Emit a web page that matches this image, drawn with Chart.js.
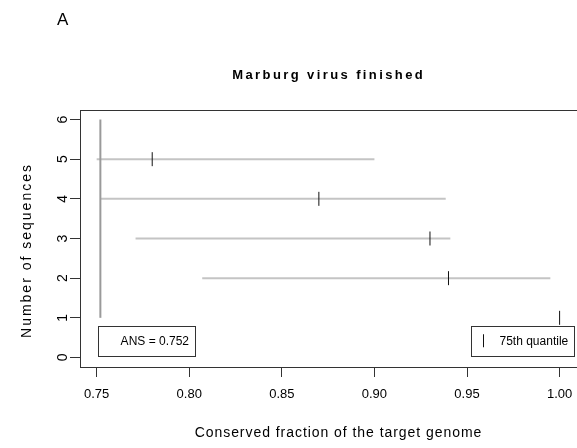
<!DOCTYPE html>
<html>
<head>
<meta charset="utf-8">
<script src="https://cdn.jsdelivr.net/npm/chart.js@4/dist/chart.umd.min.js"></script>
<style>
  html, body { margin: 0; padding: 0; background: #ffffff; }
  #wrap { width: 577px; height: 448px; position: relative; }
</style>
</head>
<body>
<div id="wrap"><canvas id="c" width="577" height="448"></canvas></div>
<script>
// ---- data ----
const sequences   = [1, 2, 3, 4, 5];
const rangeMin    = [1.000, 0.807, 0.771, 0.752, 0.750];
const rangeMax    = [1.000, 0.995, 0.941, 0.9385, 0.900];
const quantile75  = [1.000, 0.940, 0.930, 0.870, 0.780];
const ansValue    = 0.752;
const ansSpan     = [1, 6];
const xTickValues = [0.75, 0.80, 0.85, 0.90, 0.95, 1.00];
const yTickValues = [0, 1, 2, 3, 4, 5, 6];
const panelLabel  = 'A';
const chartTitle  = 'Marburg virus finished';
const xTitle      = 'Conserved fraction of the target genome';
const yTitle      = 'Number of sequences';
const ansLabel    = 'ANS = 0.752';
const quantLabel  = '75th quantile';

const FONT = '"Liberation Sans", Arial, Helvetica, sans-serif';

// ---- datasets ----
const datasets = [];
sequences.forEach((s, i) => {
  datasets.push({
    label: 'range ' + s,
    data: [{x: rangeMin[i], y: s}, {x: rangeMax[i], y: s}],
    showLine: true,
    borderColor: '#c4c4c4',
    borderWidth: 2,
    pointRadius: 0,
    order: 3
  });
});
datasets.push({
  label: 'ANS',
  data: ansSpan.map(y => ({x: ansValue, y: y})),
  showLine: true,
  borderColor: '#9a9a9a',
  borderWidth: 2,
  pointRadius: 0,
  order: 2
});
datasets.push({
  label: '75th quantile',
  data: sequences.map((s, i) => ({x: quantile75[i], y: s})),
  showLine: false,
  pointStyle: 'line',
  rotation: 90,
  pointRadius: 7,
  borderColor: '#111111',
  backgroundColor: '#111111',
  pointBorderWidth: 1,
  borderWidth: 1,
  clip: false,
  order: 1
});

function spacedText(ctx, text, x, y, spacing, align) {
  let total = 0;
  const widths = [];
  for (const ch of text) { const w = ctx.measureText(ch).width; widths.push(w); total += w; }
  total += spacing * (text.length - 1);
  let cx = align === 'center' ? x - total / 2 : x;
  ctx.textAlign = 'left';
  let k = 0;
  for (const ch of text) { ctx.fillText(ch, cx, y); cx += widths[k++] + spacing; }
}

const decor = {
  id: 'decor',
  afterDraw(chart) {
    const ctx = chart.ctx;
    const a = chart.chartArea;
    ctx.save();
    // top border of the box
    ctx.strokeStyle = '#333333';
    ctx.lineWidth = 1;
    ctx.beginPath();
    ctx.moveTo(a.left, a.top + 0.5);
    ctx.lineTo(a.right, a.top + 0.5);
    ctx.stroke();

    ctx.fillStyle = '#000000';
    ctx.textBaseline = 'alphabetic';
    ctx.font = '17px ' + FONT;
    ctx.textAlign = 'left';
    ctx.fillText(panelLabel, 57, 25);
    ctx.font = 'bold 13px ' + FONT;
    spacedText(ctx, chartTitle, 327.5, 79, 2.4, 'center');
    ctx.font = '14px ' + FONT;
    spacedText(ctx, xTitle, 338, 436.5, 0.95, 'center');
    ctx.save();
    ctx.translate(30.5, 251.5);
    ctx.rotate(-Math.PI / 2);
    spacedText(ctx, yTitle, 0, 0, 2.0, 'center');
    ctx.restore();

    // legend: ANS box (bottom-left)
    ctx.strokeStyle = '#333333';
    ctx.lineWidth = 1;
    const bl = {l: a.left + 18, r: a.left + 114.5, t: a.bottom - 41, b: a.bottom - 11.5};
    ctx.strokeRect(Math.round(bl.l) + 0.5, Math.round(bl.t) + 0.5, Math.round(bl.r - bl.l), Math.round(bl.b - bl.t));
    ctx.font = '12px ' + FONT;
    ctx.textAlign = 'right';
    ctx.textBaseline = 'middle';
    ctx.fillText(ansLabel, bl.r - 5.5, (bl.t + bl.b) / 2 + 0.5);

    // legend: quantile box (bottom-right)
    const br = {l: a.right - 106, r: a.right - 3.5, t: a.bottom - 41, b: a.bottom - 11.5};
    ctx.strokeRect(Math.round(br.l) + 0.5, Math.round(br.t) + 0.5, Math.round(br.r - br.l), Math.round(br.b - br.t));
    const my = (br.t + br.b) / 2;
    ctx.strokeStyle = '#111111';
    ctx.beginPath();
    ctx.moveTo(Math.round(br.l + 11.5) + 0.5, my - 6.5);
    ctx.lineTo(Math.round(br.l + 11.5) + 0.5, my + 6.5);
    ctx.stroke();
    ctx.textAlign = 'left';
    ctx.fillText(quantLabel, br.l + 28.5, my + 0.5);
    ctx.restore();
  }
};

new Chart(document.getElementById('c'), {
  type: 'scatter',
  data: { datasets: datasets },
  options: {
    responsive: false,
    animation: false,
    devicePixelRatio: 1,
    layout: { autoPadding: false, padding: { top: 110, left: 0, right: 0, bottom: 0 } },
    plugins: { legend: { display: false }, title: { display: false }, tooltip: { enabled: false } },
    scales: {
      x: {
        type: 'linear',
        min: 0.741,
        max: 1.0094,
        afterFit: s => { s.height = 81; s.paddingLeft = 0; s.paddingRight = 0; },
        afterBuildTicks: s => { s.ticks = xTickValues.map(v => ({value: v})); },
        border: { display: true, color: '#333333', width: 1 },
        grid: { display: true, drawOnChartArea: false, drawTicks: true, tickLength: 10, color: '#333333' },
        ticks: {
          color: '#000000', padding: 10, maxRotation: 0, minRotation: 0,
          font: { family: FONT, size: 13 },
          callback: v => v.toFixed(2)
        }
      },
      y: {
        type: 'linear',
        min: -0.24,
        max: 6.24,
        afterFit: s => { s.width = 80; s.paddingTop = 0; s.paddingBottom = 0; },
        afterBuildTicks: s => { s.ticks = yTickValues.map(v => ({value: v})); },
        border: { display: true, color: '#333333', width: 1 },
        grid: { display: true, drawOnChartArea: false, drawTicks: true, tickLength: 10, color: '#333333' },
        ticks: {
          color: '#000000', padding: 3, minRotation: 90, maxRotation: 90, crossAlign: 'center',
          font: { family: FONT, size: 14 },
          callback: v => String(v)
        }
      }
    }
  },
  plugins: [decor]
});
</script>
</body>
</html>
